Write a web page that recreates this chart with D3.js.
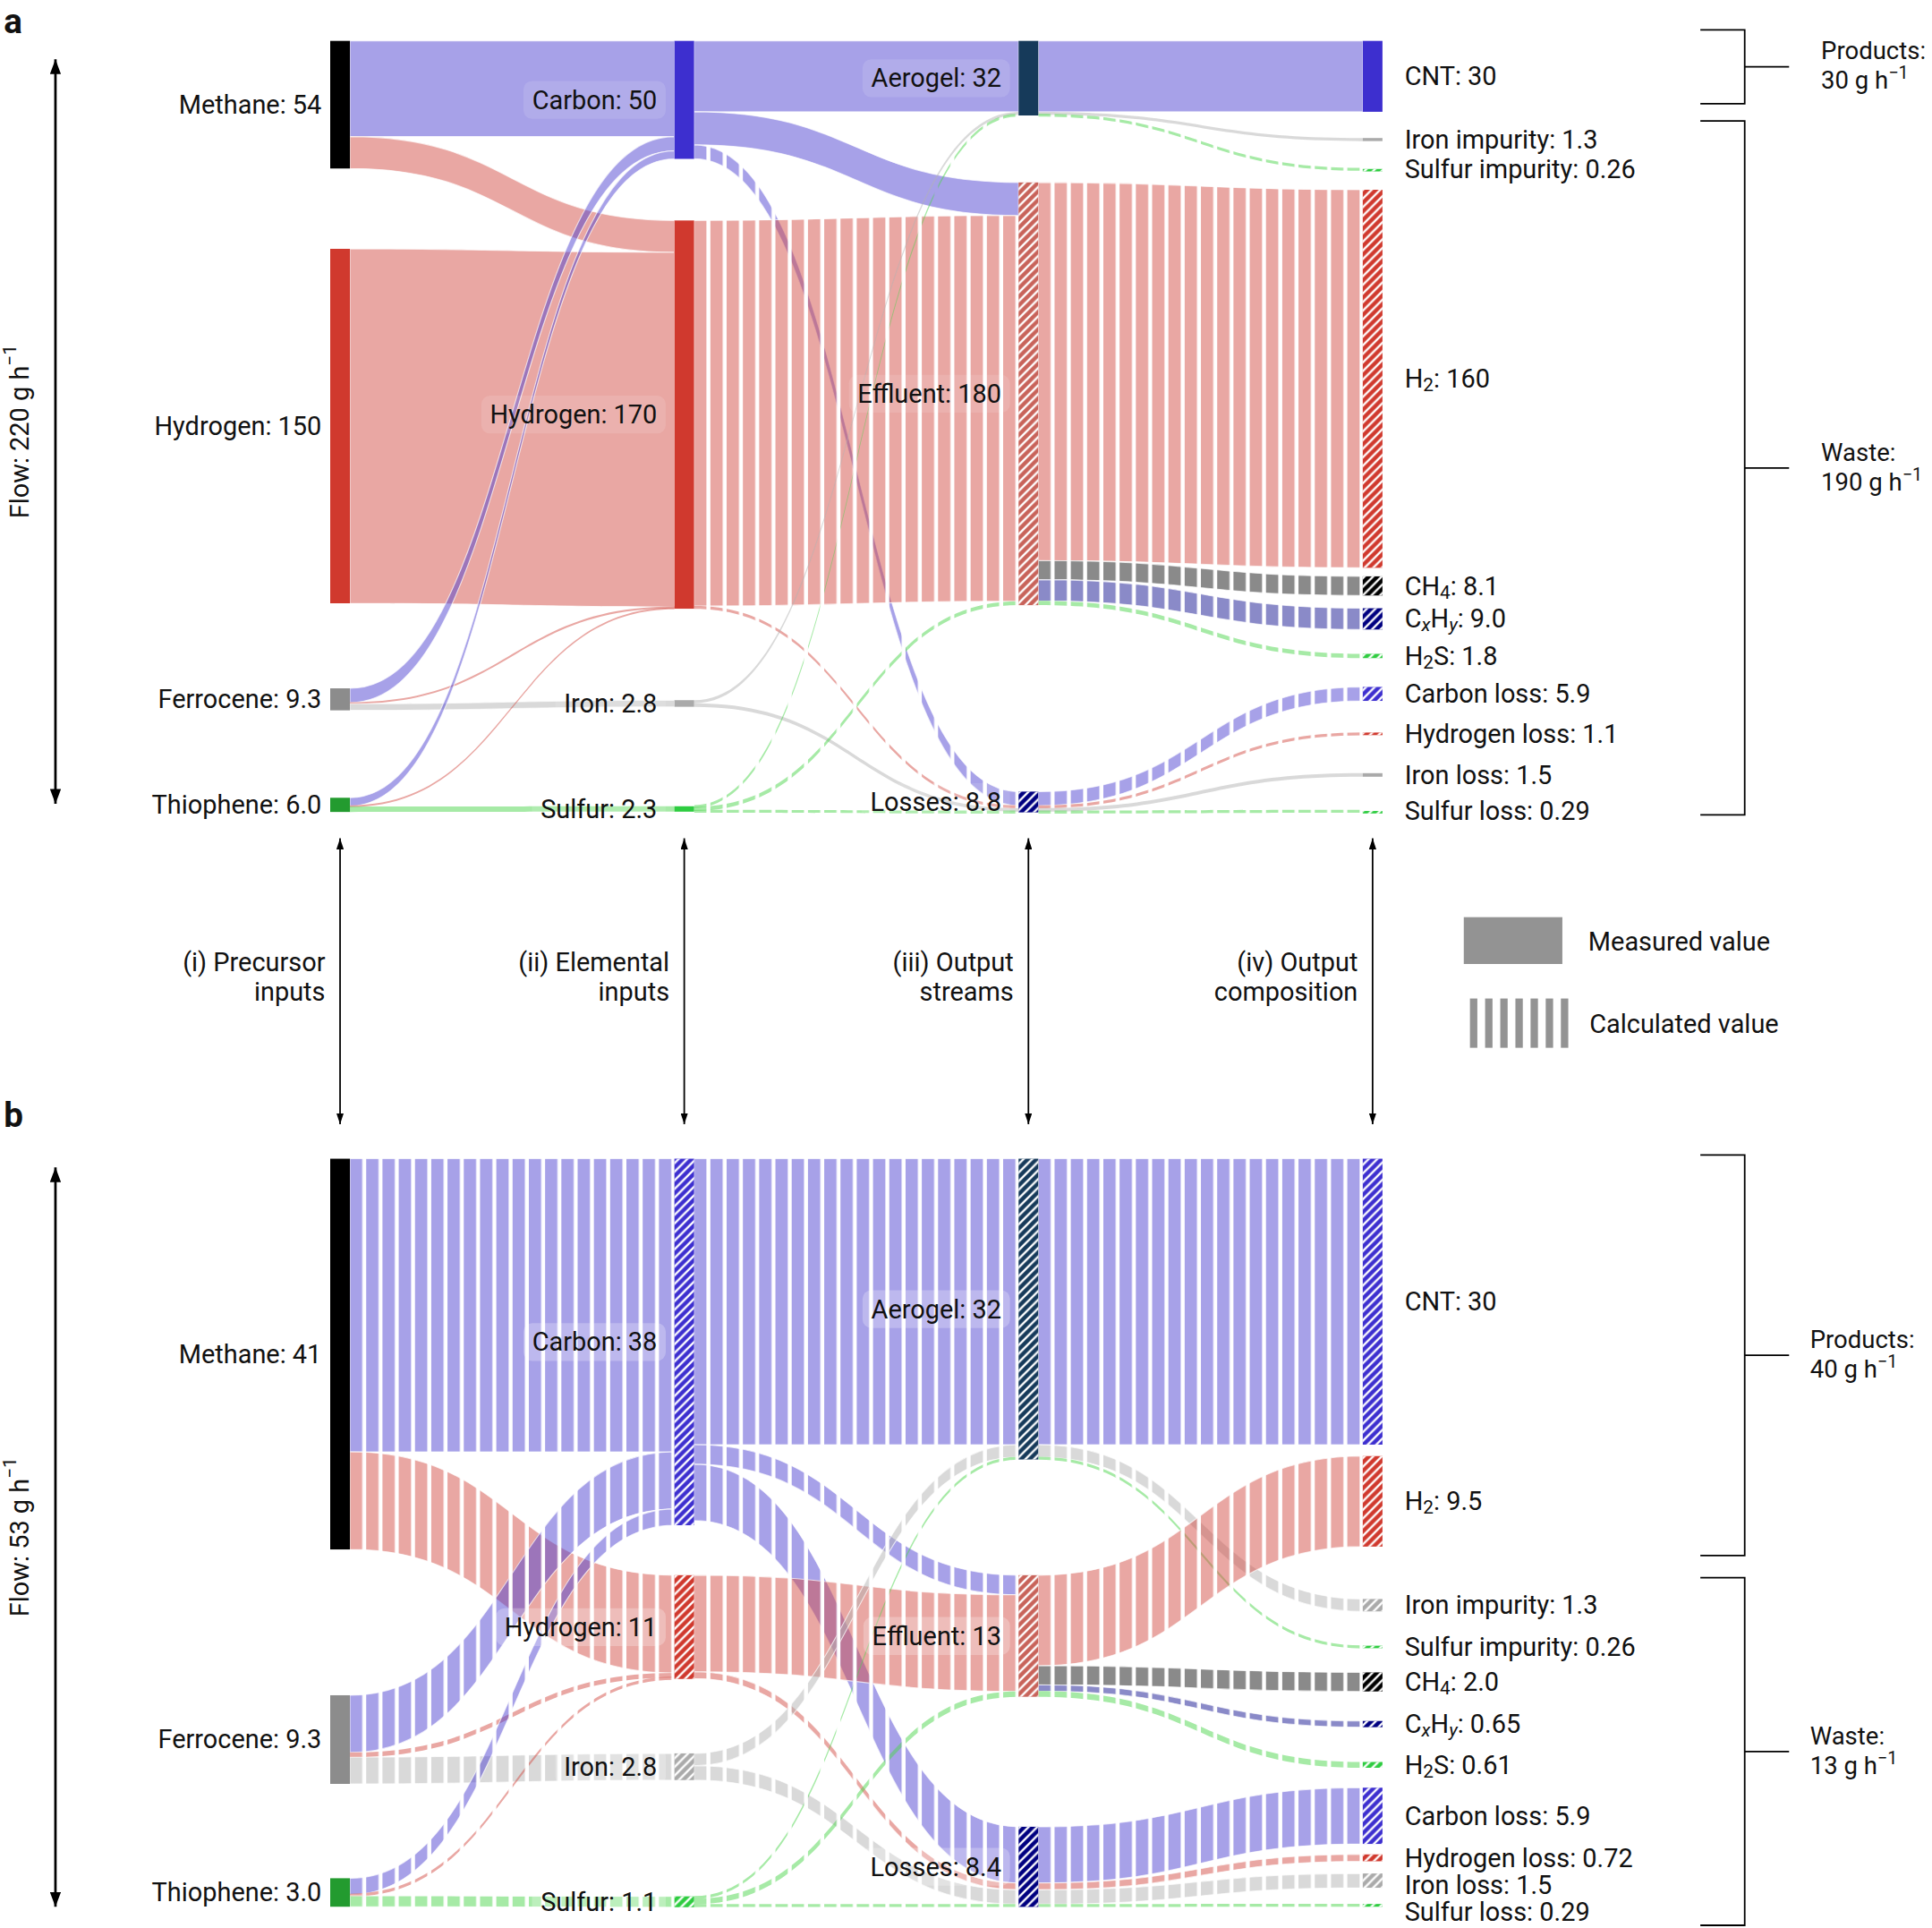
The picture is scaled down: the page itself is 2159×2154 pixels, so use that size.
<!DOCTYPE html>
<html>
<head>
<meta charset="utf-8">
<script src="https://cdn.jsdelivr.net/npm/d3@7"></script>
<style>
  body { margin: 0; background: #fff; }
  text { font-family: Roboto, 'Noto Sans', sans-serif; fill: #111; }
</style>
</head>
<body>
<div id="chart"></div>
<script>
// nodes shared by both panels (col 0 precursors, 1 elements, 2 streams, 3 composition)
var nodeIds = ['methane', 'hydrogenIn', 'ferrocene', 'thiophene', 'carbon', 'hydrogen', 'iron', 'sulfur',
  'aerogel', 'effluent', 'losses', 'cnt', 'feImp', 'sImp', 'h2', 'ch4', 'cxhy', 'h2s', 'cLoss', 'hLoss', 'feLoss', 'sLoss'];
var nodeNames = ['Methane', 'Hydrogen', 'Ferrocene', 'Thiophene', 'Carbon', 'Hydrogen', 'Iron', 'Sulfur',
  'Aerogel', 'Effluent', 'Losses', 'CNT', 'Iron impurity', 'Sulfur impurity', 'H_{2}', 'CH_{4}', 'C_{x}H_{y}', 'H_{2}S',
  'Carbon loss', 'Hydrogen loss', 'Iron loss', 'Sulfur loss'];
var nodeColumn = [0, 0, 0, 0, 1, 1, 1, 1, 2, 2, 2, 3, 3, 3, 3, 3, 3, 3, 3, 3, 3, 3];
var nodeElement = ['', '', '', '', 'C', 'H', 'Fe', 'S', '', '', '', 'C', 'Fe', 'S', 'H', 'CH4', 'CxHy', 'S', 'C', 'H', 'Fe', 'S'];

// values printed on the labels
var labelsA = ['54', '150', '9.3', '6.0', '50', '170', '2.8', '2.3', '32', '180', '8.8', '30', '1.3', '0.26', '160', '8.1', '9.0', '1.8', '5.9', '1.1', '1.5', '0.29'];
var labelsB = ['41', null, '9.3', '3.0', '38', '11', '2.8', '1.1', '32', '13', '8.4', '30', '1.3', '0.26', '9.5', '2.0', '0.65', '0.61', '5.9', '0.72', '1.5', '0.29'];

// where each node starts along the flow axis (g/h)
var startA = [0, 88, 274, 320.3, 0, 76, 279, 323.9, 0, 59.9, 317.7, 0, 41.1, 54.2, 63, 226.6, 240.1, 259.4, 273.4, 292.7, 309.9, 325.9];
var startB = [0, null, 56.3, 75.5, 0, 43.7, 62.4, 77.4, 0, 43.7, 70.1, 0, 46.2, 51.1, 31.2, 53.9, 59.0, 63.3, 66.0, 73.0, 75.0, 78.2];

// 1 = measured, 0 = calculated
var nodeMeasuredA = [1, 1, 1, 1, 1, 1, 1, 1, 1, 0, 0, 1, 1, 0, 0, 0, 0, 0, 0, 0, 1, 0];
var nodeMeasuredB = [1, 1, 1, 1, 0, 0, 0, 0, 0, 0, 0, 0, 0, 0, 0, 0, 0, 0, 0, 0, 0, 0];

// links
var linkSource = ['methane', 'methane', 'hydrogenIn', 'ferrocene', 'ferrocene', 'ferrocene', 'thiophene', 'thiophene', 'thiophene',
  'carbon', 'carbon', 'carbon', 'hydrogen', 'hydrogen', 'iron', 'iron', 'sulfur', 'sulfur', 'sulfur',
  'aerogel', 'aerogel', 'aerogel', 'effluent', 'effluent', 'effluent', 'effluent', 'losses', 'losses', 'losses', 'losses'];
var linkTarget = ['carbon', 'hydrogen', 'hydrogen', 'carbon', 'hydrogen', 'iron', 'carbon', 'hydrogen', 'sulfur',
  'aerogel', 'effluent', 'losses', 'effluent', 'losses', 'aerogel', 'losses', 'aerogel', 'effluent', 'losses',
  'cnt', 'feImp', 'sImp', 'h2', 'ch4', 'cxhy', 'h2s', 'cLoss', 'hLoss', 'feLoss', 'sLoss'];
var flowA = [40.5, 13.5, 150, 6.0, 0.5, 2.8, 3.43, 0.29, 2.29,
  30, 14, 5.9, 163.2, 1.1, 1.3, 1.5, 0.26, 1.7, 0.29,
  30, 1.3, 0.26, 160, 8.1, 9.0, 1.8, 5.9, 1.1, 1.5, 0.29];
var flowB = [30.75, 10.25, 0, 6.0, 0.5, 2.8, 1.71, 0.14, 1.14,
  30, 2.06, 5.9, 10.13, 0.72, 1.3, 1.5, 0.26, 0.57, 0.29,
  30, 1.3, 0.26, 9.5, 2.0, 0.65, 0.61, 5.9, 0.72, 1.5, 0.29];
var linkMeasuredA = [1, 1, 1, 1, 1, 1, 1, 1, 1,
  1, 1, 0, 0, 0, 1, 1, 0, 0, 0,
  1, 1, 0, 0, 0, 0, 0, 0, 0, 1, 0];
var linkMeasuredB = flowB.map(function () { return 0 });

// colours
var nodeColors = ['#000000', '#d0392e', '#8c8c8c', '#239b2f', '#3d2fcf', '#d0392e', '#aaaaaa', '#2ecc40',
  '#163a5a', '#c8635a', '#000080', '#3d2fcf', '#aaaaaa', '#2ecc40', '#d0392e', '#000000', '#000080', '#2ecc40',
  '#3d2fcf', '#d0392e', '#aaaaaa', '#2ecc40'];
var linkColor = { C: '#5044d2', H: '#d34f47', Fe: '#b3b3b3', S: '#4dd54d', CH4: '#151515', CxHy: '#151591' };

var W = 1568, H = 1564;
var nodeWidth = 16;
var fontSize = 21;
var xCol = d3.scaleLinear().domain([0, 3]).range([268, 1106]);

var svg = d3.select('#chart').append('svg')
  .attr('width', 2159)
  .attr('height', 2154)
  .attr('viewBox', '0 0 ' + W + ' ' + H);

var defs = svg.append('defs');

// diagonal hatch for calculated nodes
defs.append('pattern')
  .attr('id', 'hatch')
  .attr('patternUnits', 'userSpaceOnUse')
  .attr('width', 7).attr('height', 7)
  .append('path')
  .attr('d', 'M-1,1 l2,-2 M0,7 l7,-7 M6,8 l2,-2')
  .attr('stroke', '#fff')
  .attr('stroke-width', 1.7);

// vertical stripes for calculated flows, one per column gap
d3.range(3).forEach(function (g) {
  var p = defs.append('pattern')
    .attr('id', 'stripe' + g)
    .attr('patternUnits', 'userSpaceOnUse')
    .attr('x', xCol(g) + nodeWidth).attr('y', 0)
    .attr('width', 13.2).attr('height', 20);
  p.append('rect').attr('width', 10).attr('height', 20).attr('fill', '#fff');
  defs.append('mask')
    .attr('id', 'mask' + g)
    .attr('maskUnits', 'userSpaceOnUse')
    .attr('x', 0).attr('y', 0).attr('width', W).attr('height', H)
    .append('rect')
    .attr('width', W).attr('height', H)
    .attr('fill', 'url(#stripe' + g + ')');
});

// arrow heads
function arrowMarker(id, len, wid) {
  defs.append('marker')
    .attr('id', id)
    .attr('viewBox', '0 0 ' + len + ' ' + wid)
    .attr('refX', len).attr('refY', wid / 2)
    .attr('markerUnits', 'userSpaceOnUse')
    .attr('markerWidth', len).attr('markerHeight', wid)
    .attr('orient', 'auto-start-reverse')
    .append('path')
    .attr('d', 'M0,0 L' + len + ',' + (wid / 2) + ' L0,' + wid + ' Z')
    .attr('fill', '#000');
}
arrowMarker('bigArrow', 12, 9);
arrowMarker('smallArrow', 9, 6);

// text with _{sub} and ^{sup}
function rich(text, str) {
  str.split(/([_^]\{[^}]*\})/).forEach(function (s) {
    if (!s) return;
    var m = s.match(/^([_^])\{([^}]*)\}$/);
    if (m) {
      text.append('tspan')
        .attr('baseline-shift', m[1] === '_' ? -5 : 8)
        .attr('font-size', '72%')
        .attr('font-style', /^[xy]$/.test(m[2]) ? 'italic' : null)
        .text(m[2]);
    } else {
      text.append('tspan').text(s);
    }
  });
  return text;
}

function drawPanel(p) {
  var y = d3.scaleLinear().domain([0, p.total]).range(p.range);
  var g = svg.append('g');

  var nodes = nodeIds.map(function (id, i) {
    return {
      id: id, i: i, name: nodeNames[i], col: nodeColumn[i], label: p.labels[i],
      start: p.start[i], measured: p.nodeMeasured[i], ins: [], outs: []
    };
  }).filter(function (n) { return n.label != null });
  var byId = {};
  nodes.forEach(function (n) { byId[n.id] = n });

  var links = linkSource.map(function (s, i) {
    return { source: byId[s], target: byId[linkTarget[i]], value: p.flow[i], measured: p.linkMeasured[i] };
  }).filter(function (l) { return l.value > 0 });
  links.forEach(function (l) { l.source.outs.push(l); l.target.ins.push(l) });

  // stack links on their nodes
  nodes.forEach(function (n) {
    n.outs.sort(function (a, b) { return a.target.start - b.target.start });
    n.ins.sort(function (a, b) { return a.source.start - b.source.start });
    var c = n.start;
    n.outs.forEach(function (l) { l.s0 = c; c += l.value });
    c = n.start;
    n.ins.forEach(function (l) { l.t0 = c; c += l.value });
    n.value = Math.max(d3.sum(n.outs, function (l) { return l.value }), d3.sum(n.ins, function (l) { return l.value }));
  });

  function thickness(l) { return y(l.value) - y(0) }

  function ribbon(l) {
    var x0 = xCol(l.source.col) + nodeWidth, x1 = xCol(l.target.col), xm = (x0 + x1) / 2;
    var minH = l.measured ? 1.5 : 2.4;
    var pad = Math.max(0, (minH - thickness(l)) / 2);
    var a0 = y(l.s0) - pad, a1 = y(l.s0 + l.value) + pad;
    var b0 = y(l.t0) - pad, b1 = y(l.t0 + l.value) + pad;
    return 'M' + x0 + ',' + a0 + 'C' + xm + ',' + a0 + ' ' + xm + ',' + b0 + ' ' + x1 + ',' + b0 +
      'L' + x1 + ',' + b1 + 'C' + xm + ',' + b1 + ' ' + xm + ',' + a1 + ' ' + x0 + ',' + a1 + 'Z';
  }

  function elementOf(l) {
    var k = l.source.col === 1 ? nodeElement[l.source.i] : nodeElement[l.target.i];
    return linkColor[k];
  }

  g.append('g')
    .selectAll('path')
    .data(links)
    .enter()
    .append('path')
    .attr('d', ribbon)
    .attr('fill', elementOf)
    .attr('fill-opacity', 0.5)
    .attr('stroke', function (l) { return thickness(l) > 5 ? '#fff' : 'none' })
    .attr('stroke-width', 0.8)
    .attr('stroke-opacity', 0.7)
    .attr('mask', function (l) { return l.measured ? null : 'url(#mask' + l.source.col + ')' });

  // node bars
  var nodeG = g.append('g');
  function nodeY(n) { return y(n.start) }
  function nodeH(n) { return Math.max(2, y(n.start + n.value) - y(n.start)) }
  nodeG.selectAll('rect.node')
    .data(nodes)
    .enter()
    .append('rect')
    .attr('class', 'node')
    .attr('x', function (n) { return xCol(n.col) })
    .attr('y', nodeY)
    .attr('width', nodeWidth)
    .attr('height', nodeH)
    .attr('fill', function (n) { return nodeColors[n.i] });
  nodeG.selectAll('rect.hatch')
    .data(nodes.filter(function (n) { return !n.measured }))
    .enter()
    .append('rect')
    .attr('class', 'hatch')
    .attr('x', function (n) { return xCol(n.col) })
    .attr('y', nodeY)
    .attr('width', nodeWidth)
    .attr('height', nodeH)
    .attr('fill', 'url(#hatch)');

  // labels
  var labelG = g.append('g').attr('font-size', fontSize);
  nodes.forEach(function (n) {
    n.ly = y(n.start + n.value / 2);
  });
  // keep right-hand labels apart
  var right = nodes.filter(function (n) { return n.col === 3 }).sort(function (a, b) { return a.ly - b.ly });
  for (var i = 1; i < right.length; i++) {
    if (right[i].ly - right[i - 1].ly < 22) right[i].ly = right[i - 1].ly + 22;
  }

  nodes.forEach(function (n) {
    var t = labelG.append('text')
      .attr('dominant-baseline', 'central')
      .attr('y', n.ly);
    if (n.col === 3) {
      t.attr('x', xCol(3) + nodeWidth + 18).attr('text-anchor', 'start');
    } else {
      t.attr('x', xCol(n.col) - (n.col === 0 ? 7 : 14)).attr('text-anchor', 'end');
    }
    rich(t, n.name + ': ' + n.label);
    if (n.col === 1 || n.col === 2) {
      var bb = t.node().getBBox();
      labelG.insert('rect', function () { return t.node() })
        .attr('x', bb.x - 7).attr('y', bb.y - 3)
        .attr('width', bb.width + 14).attr('height', bb.height + 6)
        .attr('rx', 7)
        .attr('fill', '#fff')
        .attr('fill-opacity', p.boxOpacity);
    }
  });

  // panel letter
  svg.append('text')
    .attr('x', 3).attr('y', p.letterY)
    .attr('font-size', 28)
    .attr('font-weight', 'bold')
    .text(p.letter);

  // flow arrow and label
  svg.append('line')
    .attr('x1', 45).attr('x2', 45)
    .attr('y1', p.arrow[0]).attr('y2', p.arrow[1])
    .attr('stroke', '#000').attr('stroke-width', 2)
    .attr('marker-start', 'url(#bigArrow)')
    .attr('marker-end', 'url(#bigArrow)');
  rich(svg.append('text')
    .attr('transform', 'translate(16,' + ((p.arrow[0] + p.arrow[1]) / 2) + ') rotate(-90)')
    .attr('text-anchor', 'middle')
    .attr('dominant-baseline', 'central')
    .attr('font-size', fontSize), 'Flow: ' + p.flowTotal + ' g h^{\u22121}');

  // products / waste brackets
  p.brackets.forEach(function (b) {
    var mid = (b[0] + b[1]) / 2;
    svg.append('path')
      .attr('d', 'M1380,' + b[0] + 'H1416V' + b[1] + 'H1380M1416,' + mid + 'H1452')
      .attr('fill', 'none').attr('stroke', '#000').attr('stroke-width', 1.3);
    svg.append('text').attr('font-size', 20)
      .attr('x', p.bracketTextX).attr('y', mid - 6).text(b[2]);
    rich(svg.append('text').attr('font-size', 20)
      .attr('x', p.bracketTextX).attr('y', mid + 18), b[3] + ' g h^{\u22121}');
  });
}

drawPanel({
  letter: 'a', letterY: 27,
  total: 326.5, range: [33, 659],
  labels: labelsA, start: startA, nodeMeasured: nodeMeasuredA,
  flow: flowA, linkMeasured: linkMeasuredA,
  arrow: [48, 652], flowTotal: '220',
  brackets: [[24, 84, 'Products:', '30'], [98, 661, 'Waste:', '190']],
  bracketTextX: 1478, boxOpacity: 0.12
});

drawPanel({
  letter: 'b', letterY: 914,
  total: 78.5, range: [940, 1547],
  labels: labelsB, start: startB, nodeMeasured: nodeMeasuredB,
  flow: flowB, linkMeasured: linkMeasuredB,
  arrow: [947, 1547], flowTotal: '53',
  brackets: [[937, 1262, 'Products:', '40'], [1280, 1562, 'Waste:', '13']],
  bracketTextX: 1469, boxOpacity: 0.25
});

// column captions and arrows between panels
var colCaptions = [['(i) Precursor', 'inputs'], ['(ii) Elemental', 'inputs'], ['(iii) Output', 'streams'], ['(iv) Output', 'composition']];
colCaptions.forEach(function (c, i) {
  var cx = xCol(i) + nodeWidth / 2;
  svg.append('line')
    .attr('x1', cx).attr('x2', cx)
    .attr('y1', 680).attr('y2', 912)
    .attr('stroke', '#000').attr('stroke-width', 1.3)
    .attr('marker-start', 'url(#smallArrow)')
    .attr('marker-end', 'url(#smallArrow)');
  var t = svg.append('text').attr('font-size', fontSize).attr('text-anchor', 'end');
  t.append('tspan').attr('x', cx - 12).attr('y', 788).text(c[0]);
  t.append('tspan').attr('x', cx - 12).attr('y', 812).text(c[1]);
});

// legend
svg.append('rect')
  .attr('x', 1188).attr('y', 744).attr('width', 80).attr('height', 38)
  .attr('fill', '#939393');
svg.append('g')
  .selectAll('rect')
  .data(d3.range(7))
  .enter()
  .append('rect')
  .attr('x', function (d) { return 1193 + d * 12.3 })
  .attr('y', 810).attr('width', 6).attr('height', 40)
  .attr('fill', '#939393');
svg.append('text').attr('x', 1289).attr('y', 764).attr('font-size', fontSize)
  .attr('dominant-baseline', 'central').text('Measured value');
svg.append('text').attr('x', 1290).attr('y', 831).attr('font-size', fontSize)
  .attr('dominant-baseline', 'central').text('Calculated value');
</script>
</body>
</html>
